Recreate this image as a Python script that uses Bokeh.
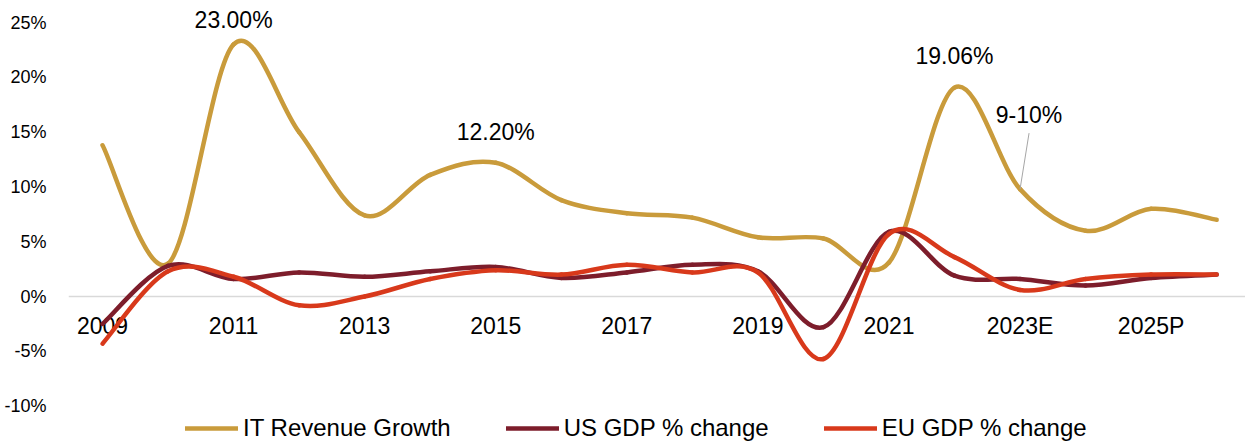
from bokeh.plotting import figure
from bokeh.models import (Range1d, FixedTicker, PrintfTickFormatter, Label, Legend,
                          LegendItem, ColumnDataSource)
from bokeh.embed import file_html
from bokeh.resources import INLINE

# ---------------- data ----------------
years = ["2009", "2010", "2011", "2012", "2013", "2014", "2015", "2016", "2017",
         "2018", "2019", "2020", "2021", "2022", "2023E", "2024E", "2025P", "2026P"]
it_growth = [13.8, 3.0, 23.0, 15.0, 7.4, 11.1, 12.2, 8.8, 7.6, 7.2, 5.4, 5.3,
             3.1, 19.06, 9.8, 6.0, 8.0, 7.0]
us_gdp = [-2.5, 2.8, 1.6, 2.2, 1.8, 2.3, 2.7, 1.7, 2.2, 2.9, 2.3, -2.8,
          5.9, 1.9, 1.6, 1.0, 1.7, 2.0]
eu_gdp = [-4.3, 2.3, 1.8, -0.8, 0.0, 1.6, 2.4, 2.0, 2.9, 2.2, 2.2, -5.7,
          5.7, 3.6, 0.6, 1.6, 2.0, 2.0]
series_names = ["IT Revenue Growth", "US GDP % change", "EU GDP % change"]
series_colors = ["#C99B3B", "#7D1D2B", "#D8391B"]
y_ticks = [-10, -5, 0, 5, 10, 15, 20, 25]
annotations = [(2, 23.0, "23.00%"), (6, 12.2, "12.20%"), (13, 19.06, "19.06%")]
callout = (14, 9.8, "9-10%")

xs = list(range(len(years)))

FONT = "Liberation Sans"

p = figure(width=1245, height=443, output_backend="svg", toolbar_location=None,
           x_range=Range1d(-0.519, 17.44), y_range=Range1d(-13.41, 27.01),
           min_border_left=68, min_border_right=0, min_border_top=0,
           min_border_bottom=0, outline_line_color=None)
p.background_fill_color = "white"
p.border_fill_color = "white"
p.xgrid.visible = False
p.ygrid.visible = False


def bezier_source(x, y):
    n = len(x)
    d = dict(x0=[], y0=[], x1=[], y1=[], cx0=[], cy0=[], cx1=[], cy1=[])
    for i in range(n - 1):
        xm, ym = (x[i - 1], y[i - 1]) if i > 0 else (x[i], y[i])
        xp, yp = (x[i + 2], y[i + 2]) if i + 2 < n else (x[i + 1], y[i + 1])
        d["x0"].append(x[i]); d["y0"].append(y[i])
        d["x1"].append(x[i + 1]); d["y1"].append(y[i + 1])
        d["cx0"].append(x[i] + (x[i + 1] - xm) / 6.0)
        d["cy0"].append(y[i] + (y[i + 1] - ym) / 6.0)
        d["cx1"].append(x[i + 1] - (xp - x[i]) / 6.0)
        d["cy1"].append(y[i + 1] - (yp - y[i]) / 6.0)
    return ColumnDataSource(d)


items = []
for vals, name, col in zip([it_growth, us_gdp, eu_gdp], series_names, series_colors):
    src = bezier_source(xs, vals)
    p.bezier(x0="x0", y0="y0", x1="x1", y1="y1", cx0="cx0", cy0="cy0",
             cx1="cx1", cy1="cy1", source=src, line_color=col, line_width=4.5,
             line_cap="round")
    proxy = p.line(xs, vals, line_color=col, line_width=4.5, line_cap="round",
                   visible=False)
    items.append(LegendItem(label=name, renderers=[proxy]))

# axes
xaxis = p.xaxis[0]
xaxis.fixed_location = 0
xaxis.ticker = FixedTicker(ticks=xs[::2])
xaxis.major_label_overrides = {i: years[i] for i in xs[::2]}
xaxis.axis_line_color = "#D9D9D9"
xaxis.axis_line_width = 1.5
xaxis.major_tick_line_color = None
xaxis.minor_tick_line_color = None
xaxis.major_label_text_font = FONT
xaxis.major_label_text_font_size = "23px"
xaxis.major_label_text_color = "#000000"
xaxis.major_label_standoff = 10
xaxis.level = "underlay"

yaxis = p.yaxis[0]
yaxis.ticker = FixedTicker(ticks=y_ticks)
yaxis.formatter = PrintfTickFormatter(format="%d%%")
yaxis.axis_line_color = None
yaxis.major_tick_line_color = None
yaxis.minor_tick_line_color = None
yaxis.major_label_text_font = FONT
yaxis.major_label_text_font_size = "18px"
yaxis.major_label_text_color = "#000000"
yaxis.major_label_standoff = 16

# data labels
offsets = [24, 31, 32]
for (xi, yv, txt), off in zip(annotations, offsets):
    p.add_layout(Label(x=xi, y=yv, text=txt, text_align="center",
                       text_baseline="middle", y_offset=off, text_font=FONT,
                       text_font_size="23px", text_color="#000000"))

cx, cy, ctxt = callout
p.segment(x0=[cx], y0=[cy], x1=[cx + 9 / 65.5], y1=[cy + 56 / 10.96],
          line_color="#A6A6A6", line_width=1)
p.add_layout(Label(x=cx, y=cy, text=ctxt, text_align="center", text_baseline="middle",
                   x_offset=9, y_offset=74, text_font=FONT, text_font_size="23px",
                   text_color="#000000"))

legend = Legend(items=items, orientation="horizontal", location=(117, 1),
                border_line_color=None, background_fill_alpha=0,
                label_text_font=FONT, label_text_font_size="24px",
                label_text_color="#000000", glyph_width=53, glyph_height=24,
                label_height=24, label_standoff=5, spacing=55, padding=0, margin=0)
p.add_layout(legend)

open("out.html", "w").write(file_html(p, INLINE))
